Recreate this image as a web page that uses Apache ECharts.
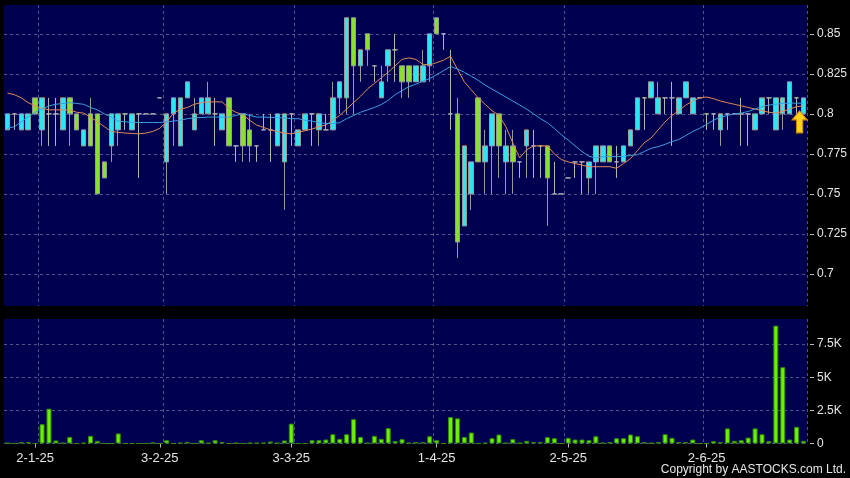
<!DOCTYPE html>
<html>
<head>
<meta charset="utf-8">
<script src="https://cdn.jsdelivr.net/npm/echarts@6.0.0/dist/echarts.min.js"></script>
<style>
html,body{margin:0;padding:0;background:#000;}
#chart{width:850px;height:478px;}
</style>
</head>
<body>
<div id="chart"></div>
<script>
// Trading dates (d-m-yy)
const dates = [
 '24-12-24','27-12-24','30-12-24','31-12-24',
 '2-1-25','3-1-25','6-1-25','7-1-25','8-1-25','9-1-25','10-1-25','13-1-25','14-1-25','15-1-25','16-1-25','17-1-25','20-1-25','21-1-25','22-1-25','23-1-25','24-1-25','27-1-25',
 '3-2-25','4-2-25','5-2-25','6-2-25','7-2-25','10-2-25','11-2-25','12-2-25','13-2-25','14-2-25','17-2-25','18-2-25','19-2-25','20-2-25','21-2-25','24-2-25','25-2-25','26-2-25','27-2-25',
 '3-3-25','4-3-25','5-3-25','6-3-25','7-3-25','10-3-25','11-3-25','12-3-25','13-3-25','14-3-25','17-3-25','18-3-25','19-3-25','20-3-25','21-3-25','24-3-25','25-3-25','26-3-25','27-3-25','28-3-25','31-3-25',
 '1-4-25','2-4-25','3-4-25','7-4-25','8-4-25','9-4-25','10-4-25','11-4-25','14-4-25','15-4-25','16-4-25','17-4-25','22-4-25','23-4-25','24-4-25','25-4-25','28-4-25','29-4-25','30-4-25',
 '2-5-25','6-5-25','7-5-25','8-5-25','9-5-25','12-5-25','13-5-25','14-5-25','15-5-25','16-5-25','19-5-25','20-5-25','21-5-25','22-5-25','23-5-25','26-5-25','27-5-25','28-5-25','29-5-25','30-5-25',
 '2-6-25','3-6-25','4-6-25','5-6-25','6-6-25','9-6-25','10-6-25','11-6-25','12-6-25','13-6-25','16-6-25','17-6-25','18-6-25','19-6-25','20-6-25'
];
// Labelled dates on the x axis
const tickLabels = ['2-1-25','3-2-25','3-3-25','1-4-25','2-5-25','2-6-25'];
// Dates whose left band edge carries a vertical grid line
const gridDates = ['3-1-25','4-2-25','4-3-25','1-4-25','2-5-25','2-6-25'];
// Price axis ticks and volume axis ticks
const priceTicks = [0.7, 0.725, 0.75, 0.775, 0.8, 0.825, 0.85];
const volumeTicks = [0, 2500, 5000, 7500];

// [open, close, low, high]
const ohlc = [
 [0.79,0.80,0.79,0.80],[0.80,0.80,0.79,0.80],[0.79,0.80,0.79,0.80],[0.79,0.80,0.79,0.80],[0.81,0.80,0.80,0.81],
 [0.79,0.81,0.78,0.81],[0.80,0.80,0.78,0.81],[0.80,0.80,0.78,0.81],[0.79,0.81,0.79,0.81],[0.81,0.80,0.78,0.81],
 [0.80,0.79,0.79,0.80],[0.78,0.79,0.78,0.79],[0.80,0.78,0.78,0.81],[0.80,0.75,0.75,0.80],[0.77,0.76,0.76,0.77],
 [0.78,0.80,0.77,0.80],[0.79,0.80,0.78,0.80],[0.80,0.80,0.79,0.80],[0.79,0.80,0.79,0.80],[0.80,0.80,0.76,0.80],
 [0.80,0.80,0.80,0.80],[0.80,0.80,0.80,0.80],[0.81,0.81,0.81,0.81],[0.77,0.80,0.75,0.80],[0.80,0.81,0.78,0.81],
 [0.78,0.81,0.78,0.81],[0.81,0.82,0.81,0.82],[0.79,0.80,0.79,0.81],[0.80,0.81,0.80,0.81],[0.80,0.81,0.80,0.82],
 [0.80,0.80,0.78,0.81],[0.79,0.80,0.79,0.80],[0.81,0.78,0.78,0.81],[0.78,0.78,0.77,0.78],[0.80,0.78,0.77,0.80],
 [0.79,0.78,0.77,0.80],[0.78,0.78,0.77,0.78],[0.79,0.79,0.79,0.80],[0.79,0.79,0.77,0.80],[0.78,0.80,0.78,0.80],
 [0.77,0.80,0.74,0.80],[0.80,0.80,0.78,0.80],[0.78,0.79,0.78,0.79],[0.79,0.80,0.79,0.80],[0.80,0.80,0.78,0.80],
 [0.79,0.80,0.78,0.80],[0.79,0.79,0.79,0.80],[0.79,0.81,0.79,0.82],[0.81,0.82,0.80,0.82],[0.81,0.86,0.80,0.86],
 [0.86,0.83,0.80,0.86],[0.83,0.84,0.82,0.84],[0.85,0.84,0.83,0.85],[0.83,0.83,0.82,0.83],[0.81,0.82,0.81,0.83],
 [0.83,0.84,0.82,0.84],[0.84,0.84,0.82,0.85],[0.83,0.82,0.81,0.83],[0.83,0.82,0.81,0.83],[0.82,0.83,0.82,0.83],
 [0.82,0.83,0.82,0.84],[0.83,0.85,0.82,0.85],[0.86,0.85,0.85,0.86],[0.85,0.85,0.84,0.85],[0.80,0.80,0.79,0.84],
 [0.80,0.72,0.71,0.81],[0.73,0.78,0.73,0.78],[0.75,0.77,0.74,0.77],[0.81,0.77,0.77,0.81],[0.77,0.78,0.75,0.79],
 [0.78,0.80,0.75,0.80],[0.80,0.78,0.76,0.80],[0.77,0.78,0.75,0.79],[0.78,0.77,0.75,0.79],[0.77,0.77,0.76,0.77],
 [0.78,0.79,0.76,0.79],[0.78,0.78,0.76,0.79],[0.78,0.78,0.76,0.78],[0.78,0.76,0.73,0.78],[0.75,0.75,0.75,0.77],
 [0.75,0.75,0.75,0.75],[0.76,0.76,0.76,0.76],[0.77,0.77,0.76,0.77],[0.77,0.77,0.75,0.77],[0.76,0.77,0.75,0.77],
 [0.77,0.78,0.75,0.78],[0.77,0.78,0.77,0.78],[0.78,0.77,0.77,0.78],[0.77,0.77,0.76,0.78],[0.77,0.78,0.77,0.78],
 [0.78,0.79,0.78,0.79],[0.79,0.81,0.79,0.81],[0.81,0.81,0.79,0.81],[0.81,0.82,0.81,0.82],[0.80,0.81,0.80,0.82],
 [0.81,0.81,0.80,0.81],[0.81,0.81,0.78,0.82],[0.80,0.81,0.80,0.81],[0.81,0.82,0.81,0.82],[0.80,0.81,0.80,0.81],
 [0.81,0.81,0.81,0.81],[0.80,0.80,0.79,0.80],[0.80,0.80,0.79,0.80],[0.79,0.80,0.78,0.80],[0.80,0.80,0.79,0.80],
 [0.80,0.80,0.80,0.80],[0.80,0.80,0.78,0.81],[0.80,0.80,0.78,0.80],[0.79,0.80,0.79,0.80],[0.80,0.81,0.80,0.81],
 [0.81,0.81,0.80,0.81],[0.79,0.81,0.79,0.81],[0.80,0.81,0.79,0.81],[0.80,0.82,0.80,0.82],[0.81,0.81,0.80,0.81],
 [0.80,0.81,0.80,0.81]
];

// Short moving average (orange)
const maShort = [
 0.813,0.812,0.810,0.807,0.805,0.8035,0.8025,0.8025,0.8025,0.8025,
 0.801,0.8005,0.798,0.795,0.792,0.789,0.7885,0.788,0.7878,0.7875,
 0.788,0.789,0.791,0.795,0.8005,0.803,0.804,0.806,0.807,0.8075,
 0.8075,0.8075,0.8035,0.801,0.7995,0.796,0.793,0.7915,0.790,0.789,
 0.788,0.7875,0.7885,0.7895,0.7905,0.792,0.793,0.796,0.799,0.803,
 0.807,0.811,0.8155,0.819,0.8225,0.826,0.830,0.834,0.835,0.834,
 0.831,0.8306,0.832,0.8335,0.836,0.828,0.820,0.815,0.810,0.806,
 0.802,0.799,0.792,0.782,0.7725,0.7775,0.780,0.780,0.780,0.775,
 0.7715,0.770,0.769,0.768,0.767,0.767,0.767,0.767,0.766,0.769,
 0.772,0.777,0.782,0.785,0.790,0.795,0.799,0.802,0.8055,0.808,
 0.810,0.8105,0.8095,0.808,0.807,0.806,0.805,0.804,0.803,0.802,
 0.801,0.8005,0.8015,0.803,0.8045,0.805
];
// Long moving average (blue)
const maLong = [
 0.791,0.792,0.795,0.798,0.801,0.803,0.805,0.806,0.8065,0.807,
 0.8065,0.806,0.804,0.8025,0.800,0.798,0.7955,0.795,0.7948,0.7946,
 0.7946,0.7946,0.7946,0.795,0.7955,0.796,0.797,0.7975,0.7977,0.798,
 0.798,0.798,0.798,0.799,0.8003,0.799,0.798,0.798,0.7978,0.7977,
 0.7975,0.797,0.797,0.796,0.7955,0.7945,0.794,0.794,0.7945,0.797,
 0.799,0.801,0.8025,0.804,0.8058,0.8085,0.812,0.8145,0.817,0.8185,
 0.8205,0.822,0.8245,0.827,0.8296,0.828,0.826,0.8235,0.821,0.818,
 0.8155,0.813,0.8105,0.808,0.8055,0.803,0.800,0.797,0.7945,0.791,
 0.787,0.7837,0.780,0.7765,0.7735,0.7725,0.7733,0.7733,0.7733,0.7735,
 0.774,0.7745,0.7765,0.7785,0.7795,0.781,0.7827,0.784,0.7865,0.789,
 0.791,0.7935,0.796,0.798,0.799,0.800,0.8005,0.8015,0.803,0.8045,
 0.8055,0.806,0.8065,0.8067,0.8067,0.8067
];
// Daily volume (shares)
const volumes = [
 50,0,100,100,0,1460,2630,230,50,500,
 0,50,580,200,0,0,760,0,0,0,
 0,80,0,250,0,50,120,0,250,50,
 250,120,0,50,0,50,50,50,150,50,
 230,1500,0,0,250,250,300,700,350,700,
 1840,500,50,580,350,1160,180,330,50,100,
 100,550,250,0,2000,1900,500,830,0,50,
 400,680,50,330,50,200,100,100,480,400,
 0,430,300,300,250,550,50,100,400,400,
 680,550,100,50,100,700,430,100,100,300,
 0,0,180,100,1140,200,250,450,1140,700,
 180,8900,5760,300,1260,200
];
// Latest-price marker
const arrowMark = { date: '19-6-25', price: 0.80 };

const gridColor = '#53538a';
const textColor = '#e6e6e6';
const fontFam = '"Liberation Sans", Arial, sans-serif';

const chart = echarts.init(document.getElementById('chart'), null, {renderer: 'canvas'});
const splitX = {
  show: true,
  interval: (i, v) => gridDates.includes(v),
  lineStyle: { color: gridColor, type: [3, 3], width: 1 }
};
const option = {
  backgroundColor: '#000000',
  animation: false,
  grid: [
    { left: 4, right: 43, top: 5, height: 301, show: true, backgroundColor: '#000050', borderWidth: 0 },
    { left: 4, right: 43, top: 319, height: 124.5, show: true, backgroundColor: '#000050', borderWidth: 0 }
  ],
  xAxis: [
    { type: 'category', gridIndex: 0, data: dates, boundaryGap: true,
      axisLine: { show: false }, axisTick: { show: false }, axisLabel: { show: false },
      splitLine: splitX },
    { type: 'category', gridIndex: 1, data: dates, boundaryGap: true,
      axisLine: { show: false },
      axisTick: { show: true, alignWithLabel: true, length: 4, interval: (i, v) => tickLabels.includes(v),
                  lineStyle: { color: '#bbbbbb' } },
      axisLabel: { show: true, interval: (i, v) => tickLabels.includes(v), color: textColor,
                   fontSize: 13, fontFamily: fontFam, margin: 8, hideOverlap: false },
      splitLine: splitX }
  ],
  yAxis: [
    { type: 'value', gridIndex: 0, position: 'right', min: 0.68, max: 0.868, offset: 3,
      axisLine: { show: false },
      axisTick: { show: true, length: 4, customValues: priceTicks, lineStyle: { color: '#bbbbbb' } },
      axisLabel: { customValues: priceTicks, color: textColor, fontSize: 12, fontFamily: fontFam, margin: 7 },
      splitLine: { show: true, lineStyle: { color: gridColor, type: [3, 3], width: 1 } } },
    { type: 'value', gridIndex: 1, position: 'right', min: 0, max: 9400, offset: 3,
      axisLine: { show: false },
      axisTick: { show: true, length: 4, customValues: volumeTicks, lineStyle: { color: '#bbbbbb' } },
      axisLabel: { customValues: volumeTicks, color: textColor, fontSize: 12, fontFamily: fontFam, margin: 7,
                   formatter: v => v === 0 ? '0' : (v / 1000) + 'K' },
      splitLine: { show: true, lineStyle: { color: gridColor, type: [3, 3], width: 1 } } }
  ],
  series: [
    { type: 'candlestick', xAxisIndex: 0, yAxisIndex: 0, data: ohlc, barWidth: 5,
      itemStyle: { color: '#2ee6f2', color0: '#86e22a', borderColor: '#9a9a9a', borderColor0: '#9a9a9a',
                   borderColorDoji: '#b4b4b4', borderWidth: 1 } },
    { type: 'line', xAxisIndex: 0, yAxisIndex: 0, data: maShort, showSymbol: false, symbol: 'none',
      lineStyle: { color: '#e08a55', width: 1 }, z: 5 },
    { type: 'line', xAxisIndex: 0, yAxisIndex: 0, data: maLong, showSymbol: false, symbol: 'none',
      lineStyle: { color: '#3c9fe0', width: 1 }, z: 5,
      markPoint: {
        symbol: 'path://M7,0 L14,9 L10,9 L10,22 L4,22 L4,9 L0,9 Z',
        symbolSize: [15, 22],
        symbolOffset: [3, 8],
        label: { show: false },
        itemStyle: { color: '#ffd21a', borderColor: '#d98a00', borderWidth: 1 },
        data: [{ coord: [arrowMark.date, arrowMark.price] }]
      } },
    { type: 'bar', xAxisIndex: 1, yAxisIndex: 1, data: volumes, barWidth: 5,
      itemStyle: { color: '#6cf000', borderColor: '#2f8a00', borderWidth: 1 } }
  ],
  graphic: [
    { type: 'text', right: 4, top: 464,
      style: { text: 'Copyright by AASTOCKS.com Ltd.', fill: textColor,
               font: '12px "Liberation Sans Narrow", "Liberation Sans", sans-serif' } }
  ]
};
chart.setOption(option);
</script>
</body>
</html>
